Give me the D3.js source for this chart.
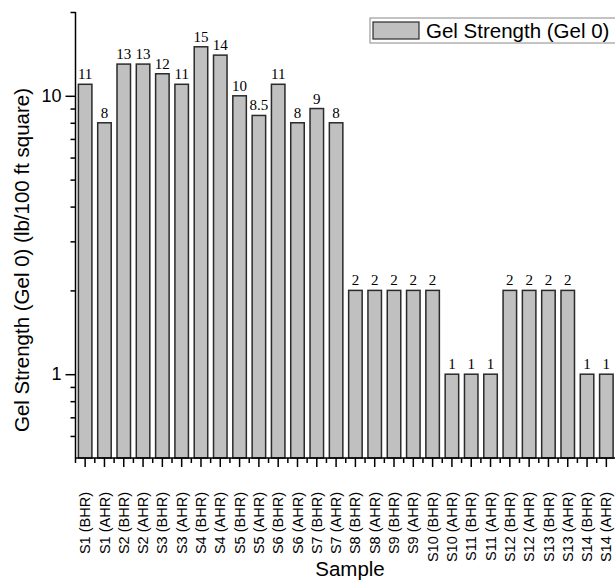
<!DOCTYPE html>
<html>
<head>
<meta charset="utf-8">
<script src="https://cdn.jsdelivr.net/npm/d3@7"></script>
<style>
  body { margin: 0; background: #fff; }
  svg { display: block; }
</style>
</head>
<body>
<svg id="chart" width="615" height="581"></svg>
<script>
// sample names, before / after hot rolling
var samples = ["S1 (BHR)","S1 (AHR)","S2 (BHR)","S2 (AHR)","S3 (BHR)","S3 (AHR)","S4 (BHR)","S4 (AHR)",
  "S5 (BHR)","S5 (AHR)","S6 (BHR)","S6 (AHR)","S7 (BHR)","S7 (AHR)","S8 (BHR)","S8 (AHR)",
  "S9 (BHR)","S9 (AHR)","S10 (BHR)","S10 (AHR)","S11 (BHR)","S11 (AHR)","S12 (BHR)","S12 (AHR)",
  "S13 (BHR)","S13 (AHR)","S14 (BHR)","S14 (AHR)"];
var gel0 = [11, 8, 13, 13, 12, 11, 15, 14, 10, 8.5, 11, 8, 9, 8, 2, 2, 2, 2, 2, 1, 1, 1, 2, 2, 2, 2, 1, 1];
var majorTicks = [1, 10];
var minorTicks = [0.6, 0.7, 0.8, 0.9, 2, 3, 4, 5, 6, 7, 8, 9, 20];

var svg = d3.select("#chart");
var plotL = 75.5, plotR = 616, plotT = 12, plotB = 458;
var sans = "'Liberation Sans', Arial, sans-serif";

var x = d3.scaleBand().domain(samples).range([plotL, plotR]).paddingInner(0.3).paddingOuter(0.15);
var y = d3.scaleLog().domain([0.5, 20]).range([plotB, plotT]);

var g = svg.append("g");

// bars
g.selectAll("rect.bar").data(gel0).enter().append("rect")
  .attr("class", "bar")
  .attr("x", function(d, i) { return x(samples[i]); })
  .attr("y", function(d) { return y(d); })
  .attr("width", x.bandwidth())
  .attr("height", function(d) { return plotB - y(d); })
  .style("fill", "#c0c0c0")
  .style("stroke", "#2a2a2a")
  .style("stroke-width", 1.5);

// value labels
g.selectAll("text.val").data(gel0).enter().append("text")
  .attr("class", "val")
  .attr("x", function(d, i) { return x(samples[i]) + x.bandwidth() / 2; })
  .attr("y", function(d) { return y(d) - 5; })
  .attr("text-anchor", "middle")
  .style("font-family", "'Liberation Serif', 'Times New Roman', serif")
  .style("font-size", "15px")
  .text(function(d) { return d; });

// y axis
var yAxis = d3.axisLeft(y).tickValues(majorTicks).tickFormat(d3.format("d")).tickSize(10).tickPadding(4);
var ya = g.append("g").attr("transform", "translate(" + plotL + ",0)").call(yAxis);
ya.select(".domain").attr("d", "M0," + plotT + "V" + plotB).style("stroke-width", 1.5);
ya.selectAll(".tick line").style("stroke-width", 1.5);
ya.selectAll(".tick text").style("font-family", sans).style("font-size", "18px");

var yMinor = d3.axisLeft(y).tickValues(minorTicks).tickFormat("").tickSize(5);
var ym = g.append("g").attr("transform", "translate(" + plotL + ",0)").call(yMinor);
ym.select(".domain").remove();
ym.selectAll(".tick line").style("stroke-width", 1.5);

// x axis
var xAxis = d3.axisBottom(x).tickSize(9).tickPadding(22);
var xa = g.append("g").attr("transform", "translate(0," + plotB + ")").call(xAxis);
xa.select(".domain").attr("d", "M" + plotL + ",0H" + plotR).style("stroke-width", 1.5);
xa.selectAll(".tick line").style("stroke-width", 1.5);
xa.selectAll(".tick text")
  .style("font-family", sans)
  .style("font-size", "14.5px")
  .attr("text-anchor", "end")
  .attr("transform", "rotate(-90)")
  .attr("x", -34)
  .attr("y", 0)
  .attr("dy", "0.35em");

// minor x ticks between bars
var step = x.step();
xa.selectAll("line.minor").data(samples).enter().append("line")
  .attr("class", "minor")
  .attr("x1", function(d) { return x(d) + x.bandwidth() / 2 - step / 2; })
  .attr("x2", function(d) { return x(d) + x.bandwidth() / 2 - step / 2; })
  .attr("y1", 0).attr("y2", 5)
  .style("stroke", "#000").style("stroke-width", 1.5);

// axis titles
svg.append("text")
  .attr("transform", "translate(29,260) rotate(-90)")
  .attr("text-anchor", "middle")
  .style("font-family", sans)
  .style("font-size", "20.5px")
  .text("Gel Strength (Gel 0) (lb/100 ft square)");

svg.append("text")
  .attr("x", 350).attr("y", 576)
  .attr("text-anchor", "middle")
  .style("font-family", sans)
  .style("font-size", "20.5px")
  .text("Sample");

// legend
var lg = svg.append("g").attr("transform", "translate(370,18)");
lg.append("rect").attr("width", 260).attr("height", 25)
  .style("fill", "#fff").style("stroke", "#888").style("stroke-width", 1);
lg.append("rect").attr("x", 3).attr("y", 4).attr("width", 46).attr("height", 17)
  .style("fill", "#c0c0c0").style("stroke", "#2a2a2a").style("stroke-width", 1.2);
lg.append("text").attr("x", 56).attr("y", 20)
  .style("font-family", sans)
  .style("font-size", "20.5px")
  .text("Gel Strength (Gel 0)");
</script>
</body>
</html>
